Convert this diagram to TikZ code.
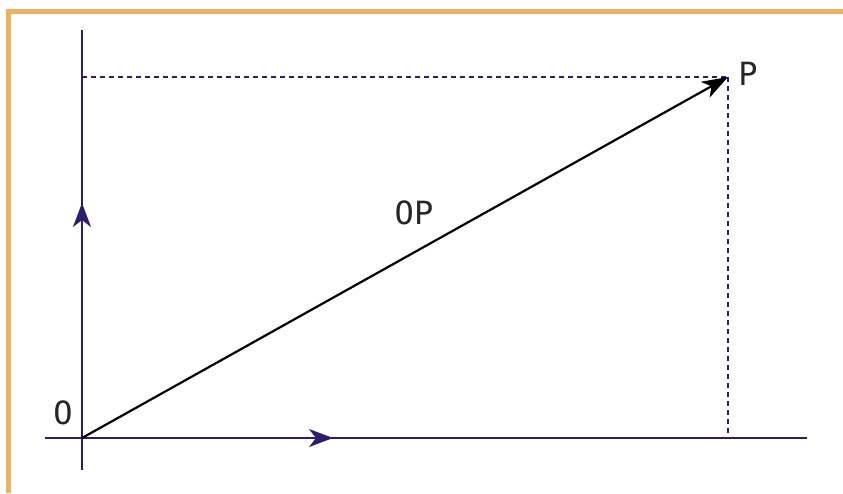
\documentclass[tikz,border=0pt]{standalone}
\usepackage{fontspec}
\setmonofont{DejaVu Sans Mono}
\usetikzlibrary{arrows.meta}
\definecolor{axiscol}{RGB}{46,28,110}
\definecolor{framecol}{RGB}{237,178,96}
\tikzset{
  axisline/.style={draw=axiscol, line width=2.2pt},
  guideline/.style={draw=axiscol, line width=2pt, dash pattern=on 5pt off 4pt},
  vecline/.style={draw=black, line width=2.2pt},
  axtip/.style={-{Stealth[length=24pt,width=18pt,inset=7pt]}},
  vectip/.style={-{Stealth[length=26pt,width=18pt,inset=7pt]}},
  lbl/.style={font=\ttfamily\fontsize{32}{32}\selectfont, inner sep=0pt, text=black!85}
}
\begin{document}
\begin{tikzpicture}[x=1pt,y=-1pt]
\useasboundingbox (0,0) rectangle (843,493);
\fill[white] (0,0) rectangle (843,493);
% frame
\fill[framecol] (6,9) rectangle (843,14);
\fill[framecol] (6,9) rectangle (11,493);
% coordinates
\coordinate (O) at (82,438);
\coordinate (P) at (728,77);
\coordinate (xl) at (45,438);
\coordinate (xr) at (807,438);
\coordinate (xa) at (333,438);
\coordinate (yt) at (82,30);
\coordinate (yb) at (82,470);
\coordinate (ya) at (82,203);
\coordinate (Py) at (82,77);
\coordinate (Px) at (728,438);
% guides
\draw[guideline] (Py) -- (P);
\draw[guideline] (P) -- (Px);
% axes
\draw[axisline] (xl) -- (xr);
\draw[axisline] (yb) -- (yt);
\draw[axisline, axtip, fill=axiscol] (O) -- (xa);
\draw[axisline, axtip, fill=axiscol] (O) -- (ya);
% vector
\draw[vecline, vectip] (O) -- (P);
% labels
\node[lbl] (Plbl) at (748,74) {P};
\node[lbl] (Olbl) at (63,413) {O};
\node[lbl] (OPlbl) at (414,213) {OP};
\end{tikzpicture}
\end{document}
